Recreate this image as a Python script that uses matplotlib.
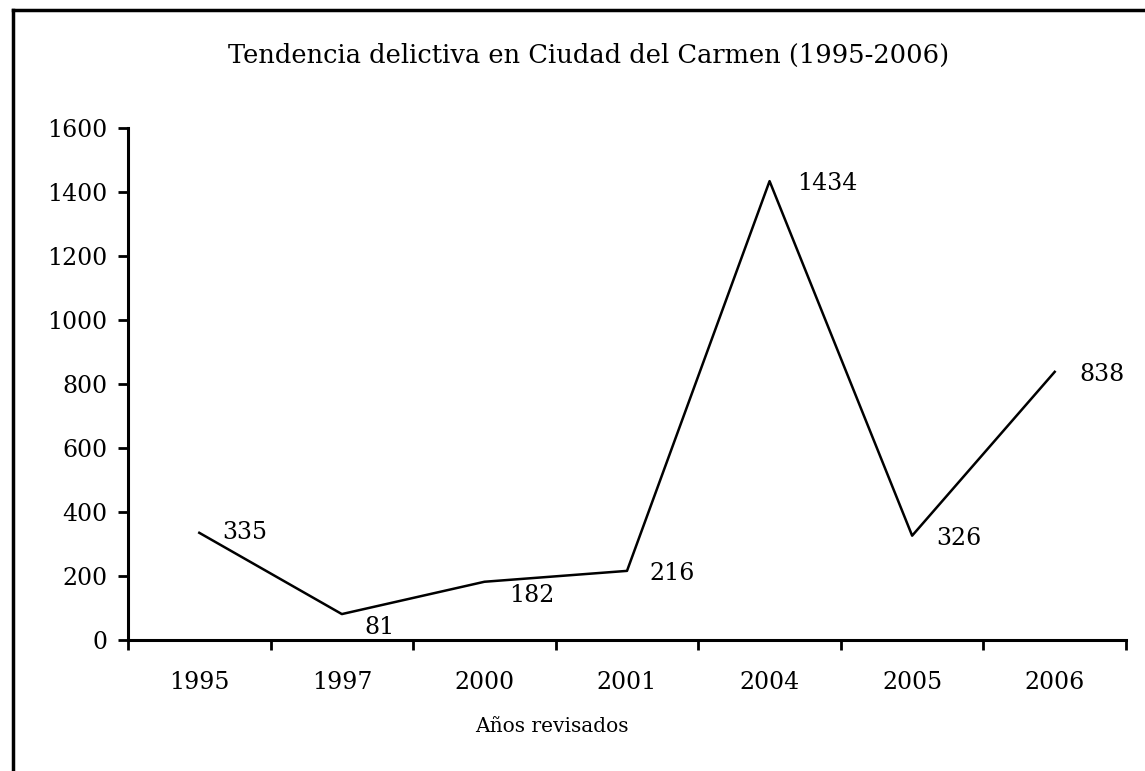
import matplotlib
matplotlib.use('Agg')
import matplotlib.pyplot as plt
from matplotlib.lines import Line2D

# datos
anios = ['1995', '1997', '2000', '2001', '2004', '2005', '2006']
delitos = [335, 81, 182, 216, 1434, 326, 838]
# desplazamiento de cada etiqueta (pixeles)
offsets = [(23, 0), (23, -13), (25, -14), (22, -3), (28, -2), (24, -3), (25, -3)]
yticks = [0, 200, 400, 600, 800, 1000, 1200, 1400, 1600]

plt.rcParams['font.family'] = ['DejaVu Serif']
fs = 17

fig = plt.figure(figsize=(11.45, 7.71), dpi=100)
ax = fig.add_axes([128/1145, 131/771, 998/1145, 512/771])

x = list(range(len(anios)))
ax.plot(x, delitos, color='black', lw=1.8)

for i, v in enumerate(delitos):
    ax.annotate(str(v), (x[i], v), xytext=offsets[i], textcoords='offset pixels',
                ha='left', va='center', fontsize=fs)

ax.set_xlim(-0.5, len(anios) - 0.5)
ax.set_ylim(0, 1600)
ax.set_yticks(yticks)
ax.set_yticklabels([str(t) for t in yticks], fontsize=fs)
ax.set_xticks(x)
ax.set_xticklabels(anios, fontsize=fs)
ax.set_xticks([i - 0.5 for i in range(len(anios) + 1)], minor=True)
ax.tick_params(axis='x', which='major', length=0, pad=22)
ax.tick_params(axis='x', which='minor', length=7, width=2, direction='out')
ax.tick_params(axis='y', length=7, width=2, direction='out', pad=8)

for s in ['top', 'right']:
    ax.spines[s].set_visible(False)
for s in ['left', 'bottom']:
    ax.spines[s].set_linewidth(2.2)

fig.text(589/1145, 1 - 55/771, 'Tendencia delictiva en Ciudad del Carmen (1995-2006)',
         ha='center', va='center', fontsize=18.5)
fig.text(552/1145, 1 - 727/771, 'Años revisados', ha='center', va='center', fontsize=14.5)

# marco
fig.add_artist(Line2D([13/1145, 13/1145], [0, 1 - 10/771], transform=fig.transFigure,
                      color='black', lw=2.5))
fig.add_artist(Line2D([13/1145, 1], [1 - 10/771, 1 - 10/771], transform=fig.transFigure,
                      color='black', lw=2.5))

fig.savefig('out.png', dpi=100)
